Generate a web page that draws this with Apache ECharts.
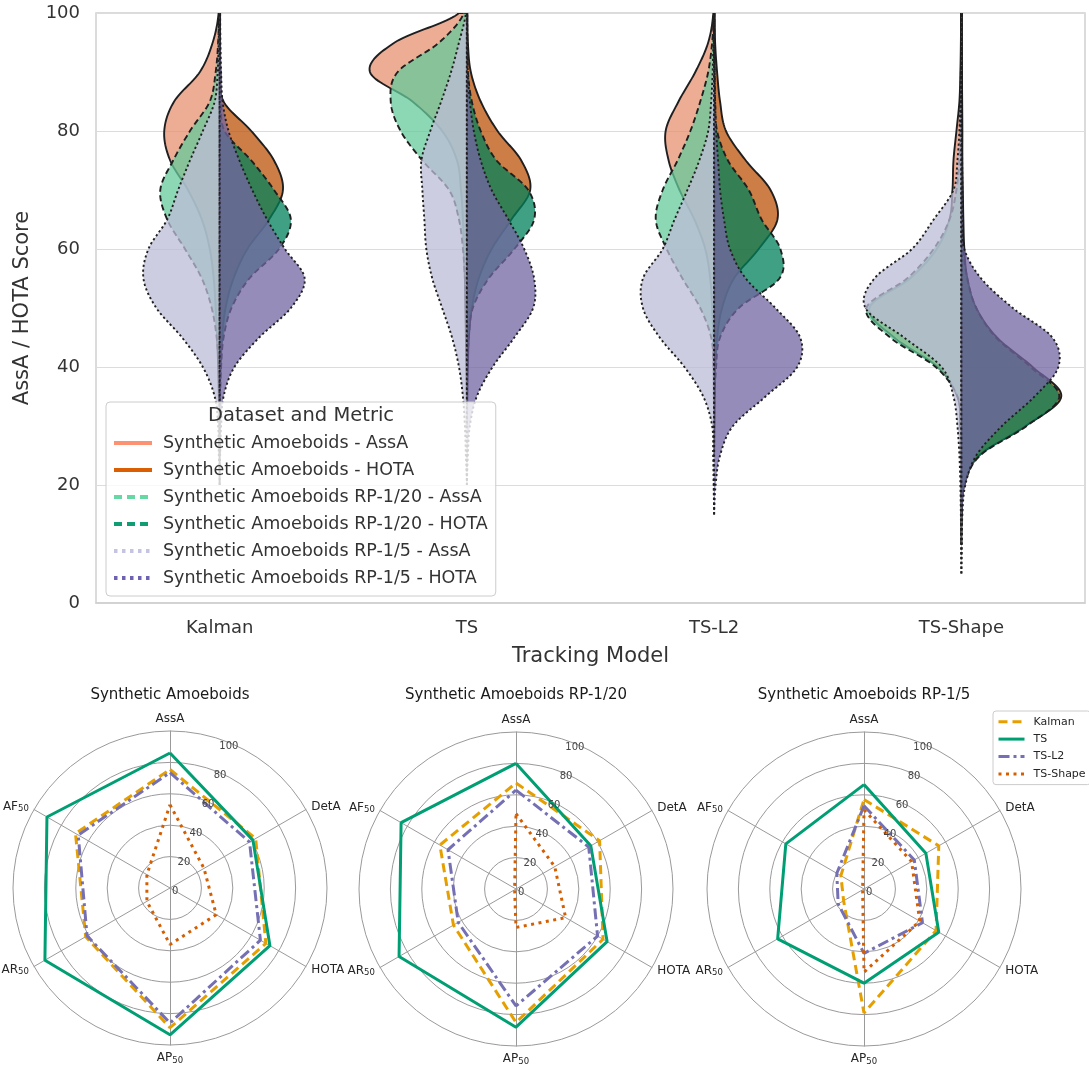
<!DOCTYPE html>
<html>
<head>
<meta charset="utf-8">
<script src="https://cdn.jsdelivr.net/npm/echarts@6/dist/echarts.min.js"></script>
<style>
  html, body { margin: 0; padding: 0; background: #ffffff; }
  #chart { width: 1089px; height: 1071px; }
</style>
</head>
<body>
<div id="chart"></div>
<script>
// ---------- violin data ----------
const models = ['Kalman', 'TS', 'TS-L2', 'TS-Shape'];
const yTicks = [0, 20, 40, 60, 80, 100];
// score levels at which each violin's half-width (density) is given
const scoreLevels = [0, 5, 10, 15, 20, 25, 30, 35, 40, 45, 50, 55, 60, 65, 70, 75, 80, 85, 90, 95, 100];

// half-width profiles, one row per tracking model (Kalman, TS, TS-L2, TS-Shape)
const amoebAssA = [
  [0, 0, 0, 0, 0, 0, 0.3, 0.8, 1.5, 2.5, 4, 6, 10, 18, 32, 50, 56, 46, 20, 7, 1],
  [0, 0, 0, 0, 0, 0, 0, 0, 0.5, 1, 1.5, 2, 3, 4, 6, 10, 25, 55, 98, 73, 8],
  [0, 0, 0, 0, 0, 0, 0, 0.3, 0.5, 1, 2, 4, 9, 20, 35, 46, 49, 36, 19, 6, 0.8],
  [0, 0, 0, 0, 0, 0, 1, 4, 24, 68, 93, 52, 25, 12, 9, 8, 5, 2, 1, 0.5, 0.3]
];
const amoebHOTA = [
  [0, 0, 0, 0, 0, 0, 0, 0.3, 1, 2.5, 6, 14, 28, 50, 64, 55, 32, 4, 1, 0.5, 0.5],
  [0, 0, 0, 0, 0, 0, 0, 0.5, 1, 2, 5, 12, 25, 45, 64, 55, 31, 14, 4, 1, 0.5],
  [0, 0, 0, 0, 0, 0, 0.3, 0.5, 1, 3, 8, 20, 45, 64, 57, 32, 12, 6, 3, 1, 0.5],
  [0, 0, 0, 0.5, 3, 18, 65, 101, 72, 36, 15, 6, 3, 2, 1.5, 1, 1, 0.8, 0.6, 0.5, 0.5]
];
const rp20AssA = [
  [0, 0, 0, 0, 0, 0, 0, 0.5, 1, 3, 8, 18, 35, 53, 60, 47, 30, 10, 4, 1.5, 0.5],
  [0, 0, 0, 0, 0, 0, 0, 0, 0, 0.5, 1, 2, 4, 8, 18, 45, 67, 77, 70, 28, 3],
  [0, 0, 0, 0, 0, 0, 0, 0, 0.5, 3, 14, 32, 48, 59, 52, 37, 24, 14, 6, 2, 0.3],
  [0, 0, 0, 0, 0, 0.5, 1, 4, 26, 72, 96, 55, 28, 12, 5, 2, 1, 0.5, 0.3, 0.2, 0]
];
const rp20HOTA = [
  [0, 0, 0, 0, 0, 0, 0, 0.5, 1.5, 4, 12, 30, 60, 72, 55, 32, 5, 1.5, 0.5, 0.3, 0.3],
  [0, 0, 0, 0, 0, 0, 0, 0, 0.5, 2, 6, 22, 48, 68, 62, 30, 14, 5, 1, 0.5, 0.3],
  [0, 0, 0, 0, 0, 0, 0, 0.5, 2, 6, 25, 66, 67, 48, 35, 14, 3, 1, 0.5, 0.3, 0.2],
  [0, 0, 0, 0.5, 3, 19, 66, 99, 70, 35, 15, 6, 2, 1, 0.5, 0.5, 0.3, 0.3, 0.2, 0.2, 0.2]
];
const rp5AssA = [
  [0, 0, 0, 0, 0, 0.8, 1.5, 5, 17, 38, 64, 77, 72, 53, 42, 30, 17, 5, 2, 1, 0.5],
  [0, 0, 0, 0, 0, 1, 2, 4, 8, 15, 25, 35, 41, 43, 45, 46, 37, 26, 16, 8, 1],
  [0, 0, 0, 0, 0.5, 1, 2, 11, 30, 55, 72, 72, 52, 40, 27, 15, 6, 3, 1.5, 0.8, 0.3],
  [0, 0, 0.3, 0.5, 1, 2, 4, 8, 20, 58, 97, 88, 50, 28, 8, 4, 2, 1, 0.5, 0.3, 0.2]
];
const rp5HOTA = [
  [0, 0, 0, 0, 0, 0.5, 1.5, 4, 15, 40, 72, 86, 66, 48, 33, 20, 9, 3, 1.5, 0.8, 0.5],
  [0, 0, 0, 0, 0, 1, 3, 10, 26, 48, 67, 68, 58, 42, 25, 14, 7, 3, 1, 0.5, 0.3],
  [0, 0, 0, 0, 1.5, 6, 19, 52, 84, 87, 62, 32, 16, 10, 6, 4, 2, 1, 0.5, 0.3, 0.2],
  [0, 0, 0.5, 1, 4, 15, 41, 74, 98, 92, 52, 20, 3, 1.5, 1, 0.8, 0.5, 0.5, 0.4, 0.3, 0.3]
];

// ---------- radar data ----------
const radarAxes = ['AssA', 'DetA', 'HOTA', 'AP50', 'AR50', 'AF50'];
const radarTitles = ['Synthetic Amoeboids', 'Synthetic Amoeboids RP-1/20', 'Synthetic Amoeboids RP-1/5'];
const radarModels = ['Kalman', 'TS', 'TS-L2', 'TS-Shape'];
// one row per dataset, values in radarAxes order
const kalmanScores = [
  [75.5, 63, 70.5, 89, 62, 69.5],
  [67.5, 61.5, 64, 85, 46, 56],
  [57, 55, 53, 79, 15, 17]
];
const tsScores = [
  [86, 61, 73.5, 93.5, 92, 90.5],
  [80, 55, 67, 88, 86, 84.5],
  [66.5, 45.5, 55, 60, 63.5, 57.5]
];
const tsL2Scores = [
  [73.5, 58.5, 66.5, 86, 61, 67.5],
  [63, 53.5, 60, 74.5, 42.5, 50],
  [53, 37, 43, 41, 19, 20]
];
const tsShapeScores = [
  [53, 25, 34, 36, 17, 17],
  [48, 28.5, 36.5, 24.5, 1, 1],
  [50.5, 35, 41, 53, 1, 1]
];

// ---------- styling ----------
const FONT = 'DejaVu Sans';
const OUTLINE = '#1f1f1f';
const violinSets = [
  { name: 'Synthetic Amoeboids - AssA', dens: amoebAssA, side: -1, fill: 'rgba(231,144,112,0.75)', line: '#fc9272', dash: null, lineType: 'solid' },
  { name: 'Synthetic Amoeboids - HOTA', dens: amoebHOTA, side: 1, fill: 'rgba(188,82,8,0.75)', line: '#d95f02', dash: null, lineType: 'solid' },
  { name: 'Synthetic Amoeboids RP-1/20 - AssA', dens: rp20AssA, side: -1, fill: 'rgba(102,202,155,0.75)', line: '#66d8a4', dash: [6, 3.5], lineType: [8, 5] },
  { name: 'Synthetic Amoeboids RP-1/20 - HOTA', dens: rp20HOTA, side: 1, fill: 'rgba(0,128,90,0.75)', line: '#0f9e73', dash: [6, 3.5], lineType: [8, 5] },
  { name: 'Synthetic Amoeboids RP-1/5 - AssA', dens: rp5AssA, side: -1, fill: 'rgba(188,188,215,0.75)', line: '#c4c4e2', dash: [2.2, 2.6], lineType: [3.5, 4.5] },
  { name: 'Synthetic Amoeboids RP-1/5 - HOTA', dens: rp5HOTA, side: 1, fill: 'rgba(115,102,162,0.75)', line: '#6e62b2', dash: [2.2, 2.6], lineType: [3.5, 4.5] }
];
const radarStyles = {
  'Kalman': { color: '#E69F00', type: [9, 5] },
  'TS': { color: '#009E73', type: 'solid' },
  'TS-L2': { color: '#7570B3', type: [11, 4, 3, 4] },
  'TS-Shape': { color: '#D55E00', type: [3, 4.5] }
};
const radarScoreRows = { 'Kalman': kalmanScores, 'TS': tsScores, 'TS-L2': tsL2Scores, 'TS-Shape': tsShapeScores };
const radarCenters = [[170, 888], [516, 889], [864, 889]];
const radarRadius = 157;
const labelAxisTilt = 22.5;   // radial tick labels sit 22.5° clockwise of the top spoke

// Catmull-Rom curve through the density profile, evaluated at score v
function profileWidth(p, v) {
  const step = scoreLevels[1] - scoreLevels[0];
  let i = Math.floor((v - scoreLevels[0]) / step);
  i = Math.min(Math.max(i, 0), p.length - 2);
  const t = (v - scoreLevels[i]) / step;
  const p0 = p[Math.max(i - 1, 0)], p1 = p[i], p2 = p[i + 1], p3 = p[Math.min(i + 2, p.length - 1)];
  return 0.5 * (2 * p1 + (-p0 + p2) * t + (2 * p0 - 5 * p1 + 4 * p2 - p3) * t * t + (-p0 + 3 * p1 - 3 * p2 + p3) * t * t * t);
}

function violinRenderer(set) {
  return function (params, api) {
    const mi = api.value(0);
    const prof = set.dens[mi];
    let first = -1, last = -1;
    prof.forEach((d, k) => { if (d > 0) { if (first < 0) first = k; last = k; } });
    if (first < 0) return null;
    const lo = Math.max(0, first - 1), hi = Math.min(prof.length - 1, last + 1);
    const band = api.size([1, 0])[0];
    const k = 0.4 * band / 100;
    const vStart = scoreLevels[lo], vEnd = scoreLevels[hi];
    const pts = [];
    const base = api.coord([mi, vStart]);
    pts.push([base[0], base[1]]);
    for (let v = vStart; v <= vEnd + 1e-9; v += 0.25) {
      const w = Math.max(0, profileWidth(prof, v)) * k;
      const c = api.coord([mi, v]);
      pts.push([c[0] + set.side * w, c[1]]);
    }
    const top = api.coord([mi, vEnd]);
    pts.push([top[0], top[1]]);
    return {
      type: 'polygon',
      shape: { points: pts },
      style: { fill: set.fill, stroke: OUTLINE, lineWidth: 1.9, lineDash: set.dash }
    };
  };
}

const series = [];
// legend swatches for the violin layers
violinSets.forEach(set => {
  series.push({
    type: 'line', name: set.name, data: [], symbol: 'none',
    xAxisIndex: 0, yAxisIndex: 0,
    itemStyle: { color: set.line },
    lineStyle: { color: set.line, width: 3.5, type: set.lineType }
  });
});
// split violins, drawn in dataset order so later layers sit on top
violinSets.forEach(set => {
  series.push({
    type: 'custom', name: set.name, xAxisIndex: 0, yAxisIndex: 0,
    clip: true,
    data: models.map((m, i) => [i, 0]),
    encode: { x: 0, y: 1 },
    renderItem: violinRenderer(set),
    silent: true, z: 2
  });
});

// radar polygons drawn on polar systems
function spokeAngle(j) {
  return ((j * 360 / radarAxes.length) - labelAxisTilt + 360) % 360;
}
radarTitles.forEach((t, d) => {
  radarModels.forEach(m => {
    const vals = radarScoreRows[m][d];
    const pts = vals.map((v, j) => [v, spokeAngle(j)]);
    pts.push(pts[0]);
    series.push({
      type: 'line', name: m, coordinateSystem: 'polar', polarIndex: d,
      data: pts, symbol: 'none', smooth: false, z: 3,
      itemStyle: { color: radarStyles[m].color },
      lineStyle: { color: radarStyles[m].color, width: 3, type: radarStyles[m].type, cap: 'butt' }
    });
  });
});

// radar indicators run counter-clockwise in ECharts
const ccwOrder = [0, 5, 4, 3, 2, 1];

const option = {
  animation: false,
  backgroundColor: '#ffffff',
  textStyle: { fontFamily: FONT },
  grid: {
    left: 96, right: 4, top: 13, height: 590,
    show: true, borderColor: '#cfcfcf', borderWidth: 1.5,
    outerBoundsMode: 'none'
  },
  xAxis: {
    type: 'category', data: models,
    axisLine: { show: true, lineStyle: { color: '#cfcfcf', width: 1.5 } },
    axisTick: { show: false },
    axisLabel: { fontSize: 18, color: '#333333', margin: 16, fontFamily: FONT },
    name: 'Tracking Model', nameLocation: 'middle', nameGap: 43,
    nameTextStyle: { fontSize: 21, color: '#333333', fontFamily: FONT },
    nameMoveOverlap: false
  },
  yAxis: {
    type: 'value', min: 0, max: 100, interval: 20,
    axisLine: { show: false }, axisTick: { show: false },
    axisLabel: { fontSize: 18, color: '#333333', margin: 16, fontFamily: FONT,
      formatter: v => (yTicks.indexOf(v) >= 0 ? String(v) : '') },
    splitLine: { show: true, lineStyle: { color: '#dcdcdc', width: 1.2 } },
    name: 'AssA / HOTA Score', nameLocation: 'middle', nameGap: 63,
    nameTextStyle: { fontSize: 21, color: '#333333', fontFamily: FONT },
    nameMoveOverlap: false
  },
  legend: [
    {
      data: violinSets.map(s => s.name),
      orient: 'vertical', left: 106, top: 402,
      padding: [31, 8, 8, 6],
      itemWidth: 38, itemHeight: 14, itemGap: 7,
      itemStyle: { opacity: 0 },
      lineStyle: { width: 4 },
      backgroundColor: 'rgba(255,255,255,0.8)',
      borderColor: '#cccccc', borderWidth: 1, borderRadius: 4,
      textStyle: { fontSize: 17.5, color: '#333333', fontFamily: FONT, lineHeight: 20, padding: [0, 0, 0, 6] },
      selectedMode: false, z: 10
    },
    {
      data: radarModels,
      orient: 'vertical', left: 993, top: 711,
      padding: [4, 5, 4, 4],
      itemWidth: 26, itemHeight: 10, itemGap: 4,
      itemStyle: { opacity: 0 },
      lineStyle: { width: 3 },
      backgroundColor: '#ffffff',
      borderColor: '#cccccc', borderWidth: 1, borderRadius: 3,
      textStyle: { fontSize: 11, color: '#262626', fontFamily: FONT, lineHeight: 13.4, padding: [0, 0, 0, 4] },
      selectedMode: false, z: 10
    }
  ],
  radar: radarCenters.map(c => ({
    center: c, radius: radarRadius, startAngle: 90,
    shape: 'circle', splitNumber: 5,
    indicator: ccwOrder.map(j => ({ name: radarAxes[j], min: 0, max: 100 })),
    axisLine: { lineStyle: { color: '#9a9a9a', width: 1 } },
    splitLine: { lineStyle: { color: '#9a9a9a', width: 1 } },
    splitArea: { show: false },
    axisTick: { show: false }, axisLabel: { show: false },
    axisNameGap: 6,
    axisName: {
      color: '#262626', fontSize: 12, fontFamily: FONT,
      formatter: n => n.replace(/50$/, '{s|50}'),
      rich: { s: { fontSize: 8.5, color: '#262626', fontFamily: FONT, verticalAlign: 'bottom', padding: [5, 0, 0, 0] } }
    },
    z: 1
  })),
  polar: radarCenters.map(c => ({ center: c, radius: radarRadius })),
  angleAxis: radarCenters.map((c, i) => ({
    polarIndex: i, type: 'value', min: 0, max: 360,
    startAngle: 90 - labelAxisTilt, clockwise: true,
    show: false, axisLine: { show: false }, axisTick: { show: false },
    axisLabel: { show: false }, splitLine: { show: false }
  })),
  radiusAxis: radarCenters.map((c, i) => ({
    polarIndex: i, type: 'value', min: 0, max: 100, interval: 20,
    axisLine: { show: false }, axisTick: { show: false }, splitLine: { show: false },
    axisLabel: { fontSize: 10, color: '#444444', margin: -9, fontFamily: FONT },
    z: 5
  })),
  graphic: [
    {
      type: 'text', x: 301, y: 416, z: 20,
      style: { text: 'Dataset and Metric', fontSize: 19.5, fontFamily: FONT, fill: '#333333', align: 'center', verticalAlign: 'middle' }
    }
  ].concat(radarTitles.map((t, i) => ({
    type: 'text', x: radarCenters[i][0], y: 695, z: 20,
    style: { text: t, fontSize: 15, fontFamily: FONT, fill: '#1a1a1a', align: 'center', verticalAlign: 'middle' }
  }))),
  series: series
};

const chart = echarts.init(document.getElementById('chart'), null, { renderer: 'canvas' });
chart.setOption(option);
</script>
</body>
</html>
